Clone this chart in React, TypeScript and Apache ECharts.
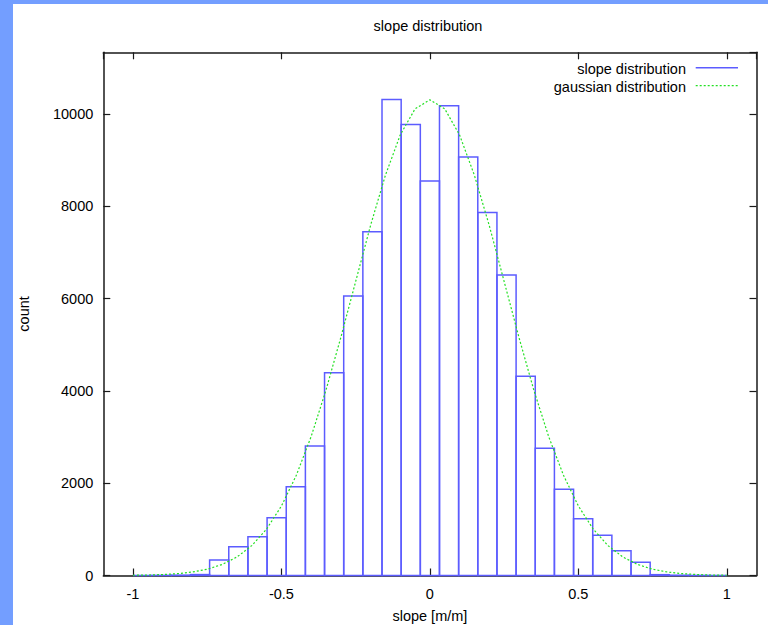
import React, { useEffect, useRef } from 'react';
import * as echarts from 'echarts';

// Histogram: 31 bins of equal width covering [-1, 1]
const binRangeMin = -1;
const binRangeMax = 1;
const binCounts = [
  0, 3, 8, 20, 336, 624, 841, 1252, 1924, 2806, 4394, 6056, 7450, 10318, 9777, 8548,
  10180, 9068, 7870, 6511, 4316, 2756, 1868, 1231, 871, 537, 286, 18, 6, 2, 0,
];

// Gaussian curve
const gaussX = [
  -1, -0.95, -0.9, -0.85, -0.8, -0.75, -0.7, -0.65, -0.6, -0.55, -0.5, -0.45, -0.4, -0.35,
  -0.3, -0.25, -0.2, -0.15, -0.1, -0.05, 0, 0.05, 0.1, 0.15, 0.2, 0.25, 0.3, 0.35, 0.4,
  0.45, 0.5, 0.55, 0.6, 0.65, 0.7, 0.75, 0.8, 0.85, 0.9, 0.95, 1,
];
const gaussY = [
  5, 10, 20, 40, 75, 136, 238, 400, 647, 1006, 1507, 2171, 3011, 4018, 5160, 6373, 7584,
  8672, 9547, 10114, 10310, 10114, 9547, 8672, 7584, 6373, 5160, 4018, 3011, 2171, 1507,
  1006, 647, 400, 238, 136, 75, 40, 20, 10, 5,
];

const xMin = -1.1;
const xMax = 1.1;
const yMin = 0;
const yMax = 11340;

const titleText = 'slope distribution';
const xName = 'slope [m/m]';
const yName = 'count';
const seriesNames = ['slope distribution', 'gaussian distribution'];

const FONT = "'Liberation Sans', Arial, Helvetica, sans-serif";
const FS = 14.5;
const BLUE = '#5c5cff';
const GREEN = '#22e022';
const AXIS = '#1a1a1a';

export default function App() {
  const ref = useRef<HTMLDivElement>(null);

  useEffect(() => {
    const chart = echarts.init(ref.current!, null, { renderer: 'svg' });
    const n = binCounts.length;
    const w = (binRangeMax - binRangeMin) / n;
    const histData = binCounts.map((c, i) => [binRangeMin + i * w, binRangeMin + (i + 1) * w, c]);
    const gaussData = gaussX.map((x, i) => [x, gaussY[i]]);

    const axisLine = { show: true, lineStyle: { color: AXIS, width: 1.5 } };
    const axisTick = { show: true, inside: true, length: 7, lineStyle: { color: AXIS, width: 1.2 } };
    const label = { fontSize: FS, fontFamily: FONT, color: '#000' };

    chart.setOption({
      animation: false,
      backgroundColor: '#ffffff',
      title: {
        text: titleText,
        left: 415,
        top: 14,
        padding: 0,
        textAlign: 'center',
        textStyle: { fontSize: FS, fontFamily: FONT, color: '#000', fontWeight: 'normal' },
      },
      grid: {
        left: 90.3,
        top: 48.3,
        right: 11.5,
        bottom: 49.5,
        containLabel: false,
        outerBoundsMode: 'none',
      },
      xAxis: [
        {
          type: 'value',
          min: xMin,
          max: xMax,
          position: 'bottom',
          axisLine: { ...axisLine, onZero: false },
          axisTick,
          splitLine: { show: false },
          axisLabel: {
            ...label,
            margin: 11,
            showMinLabel: false,
            showMaxLabel: false,
            formatter: (v: number) => String(v),
          },
          name: xName,
          nameLocation: 'middle',
          nameGap: 33,
          nameTextStyle: { fontSize: FS, fontFamily: FONT, color: '#000' },
        },
        {
          type: 'value',
          min: xMin,
          max: xMax,
          position: 'top',
          axisLine: { ...axisLine, onZero: false },
          axisTick,
          splitLine: { show: false },
          axisLabel: { show: false },
        },
      ],
      yAxis: [
        {
          type: 'value',
          min: yMin,
          max: yMax,
          position: 'left',
          axisLine: { ...axisLine, onZero: false },
          axisTick,
          splitLine: { show: false },
          axisLabel: {
            ...label,
            margin: 10,
            showMaxLabel: false,
            formatter: (v: number) => String(v),
          },
          name: yName,
          nameLocation: 'middle',
          nameGap: 72,
          nameRotate: 90,
          nameTextStyle: { fontSize: FS, fontFamily: FONT, color: '#000' },
        },
        {
          type: 'value',
          min: yMin,
          max: yMax,
          position: 'right',
          axisLine: { ...axisLine, onZero: false },
          axisTick,
          splitLine: { show: false },
          axisLabel: { show: false },
        },
      ],
      series: [
        {
          name: seriesNames[0],
          type: 'custom',
          xAxisIndex: 0,
          yAxisIndex: 0,
          data: histData,
          encode: { x: [0, 1], y: 2 },
          z: 3,
          renderItem: (params: any, api: any) => {
            const p0 = api.coord([api.value(0), api.value(2)]);
            const p1 = api.coord([api.value(1), 0]);
            return {
              type: 'rect',
              shape: { x: p0[0], y: p0[1], width: p1[0] - p0[0], height: p1[1] - p0[1] },
              style: { fill: 'none', stroke: BLUE, lineWidth: 1.5 },
            };
          },
        },
        {
          name: seriesNames[1],
          type: 'line',
          xAxisIndex: 0,
          yAxisIndex: 0,
          data: gaussData,
          symbol: 'none',
          z: 4,
          lineStyle: { color: GREEN, width: 1.2, type: [2, 2] },
        },
      ],
      graphic: [
        {
          type: 'text',
          x: 673,
          y: 64.7,
          style: {
            text: seriesNames[0],
            align: 'right',
            verticalAlign: 'middle',
            fontSize: FS,
            fontFamily: FONT,
            fill: '#000',
          },
        },
        {
          type: 'line',
          shape: { x1: 682.7, y1: 63.7, x2: 725, y2: 63.7 },
          style: { stroke: BLUE, lineWidth: 1.5 },
        },
        {
          type: 'text',
          x: 673,
          y: 82.7,
          style: {
            text: seriesNames[1],
            align: 'right',
            verticalAlign: 'middle',
            fontSize: FS,
            fontFamily: FONT,
            fill: '#000',
          },
        },
        {
          type: 'line',
          shape: { x1: 682.7, y1: 81.7, x2: 725, y2: 81.7 },
          style: { stroke: GREEN, lineWidth: 1.2, lineDash: [2, 2] },
        },
      ],
    });

    return () => chart.dispose();
  }, []);

  return (
    <div
      style={{
        position: 'absolute',
        left: 0,
        top: 0,
        width: 768,
        height: 625,
        background: '#739eff',
        overflow: 'hidden',
      }}
    >
      <div
        ref={ref}
        style={{ position: 'absolute', left: 13, top: 4, width: 755, height: 621, background: '#fff' }}
      />
    </div>
  );
}
